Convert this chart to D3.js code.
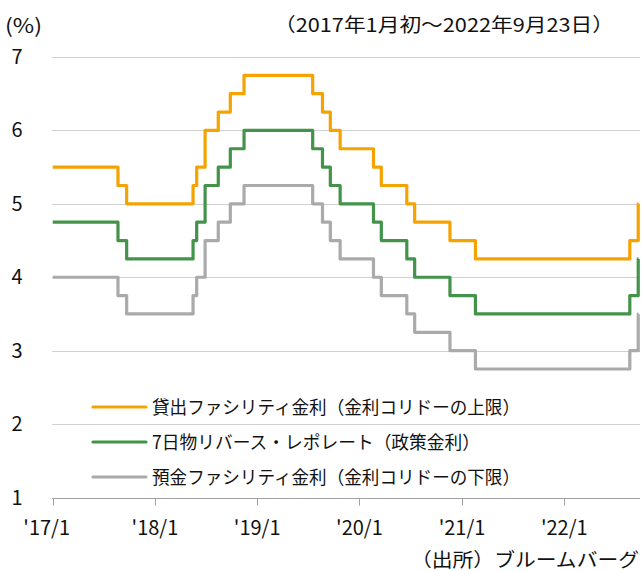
<!DOCTYPE html>
<html>
<head>
<meta charset="utf-8">
<script src="https://cdn.jsdelivr.net/npm/d3@7"></script>
<style>
  body { margin:0; background:#fff; }
  text { font-family:"Noto Sans CJK JP","Noto Sans",sans-serif; fill:#111; }
</style>
</head>
<body>
<div id="chart"></div>
<script>
// change dates of the rates (first = start of chart)
const dates = ["2017-01-01","2017-08-22","2017-09-22","2018-05-17","2018-05-30","2018-06-29",
  "2018-08-15","2018-09-27","2018-11-15","2019-07-18","2019-08-22","2019-09-19","2019-10-24",
  "2020-02-20","2020-03-19","2020-06-18","2020-07-16","2020-11-19","2021-02-18","2022-08-23",
  "2022-09-22"];
const endDate = "2022-09-23";

const lending = [5.50,5.25,5.00,5.25,5.50,6.00,6.25,6.50,6.75,6.50,6.25,6.00,5.75,
  5.50,5.25,5.00,4.75,4.50,4.25,4.50,5.00];
const policy  = [4.75,4.50,4.25,4.50,4.75,5.25,5.50,5.75,6.00,5.75,5.50,5.25,5.00,
  4.75,4.50,4.25,4.00,3.75,3.50,3.75,4.25];
const deposit = [4.00,3.75,3.50,3.75,4.00,4.50,4.75,5.00,5.25,5.00,4.75,4.50,4.25,
  4.00,3.75,3.50,3.25,3.00,2.75,3.00,3.50];

const seriesNames = ["貸出ファシリティ金利（金利コリドーの上限）",
  "7日物リバース・レポレート（政策金利）",
  "預金ファシリティ金利（金利コリドーの下限）"];
const colors = ["#f5a300","#43934a","#aaaaaa"];

const xTicks = ["2017-01-01","2018-01-01","2019-01-01","2020-01-01","2021-01-01","2022-01-01"];
const xTickLabels = ["'17/1","'18/1","'19/1","'20/1","'21/1","'22/1"];
const yTicks = [1,2,3,4,5,6,7];

const W = 641, H = 571;
const parse = d3.timeParse("%Y-%m-%d");

const svg = d3.select("#chart").append("svg")
  .attr("width",W).attr("height",H);

const x = d3.scaleTime()
  .domain([parse(dates[0]), parse(endDate)])
  .range([52.7, 638.5]);
const y = d3.scaleLinear().domain([1,7]).range([497.5,57]);

// grid
svg.append("g").selectAll("line").data(yTicks.slice(1)).enter()
  .append("line")
  .attr("x1",52).attr("x2",640)
  .attr("y1",d => Math.round(y(d))+0.5).attr("y2",d => Math.round(y(d))+0.5)
  .attr("stroke","#d0d0d0").attr("stroke-width",1);

// y labels
svg.append("g").selectAll("text").data(yTicks).enter()
  .append("text")
  .attr("x",17).attr("y",d => y(d)+7)
  .attr("text-anchor","middle")
  .style("font-size","20px")
  .text(d => d);

// x axis
const xa = svg.append("g").attr("transform","translate(0,"+(Math.round(y(1))+0.5)+")");
xa.append("line").attr("x1",52).attr("x2",640).attr("stroke","#a0a0a0");
xa.selectAll("line.tk").data(xTicks).enter()
  .append("line").attr("class","tk")
  .attr("x1",d => Math.round(x(parse(d)))+0.5).attr("x2",d => Math.round(x(parse(d)))+0.5)
  .attr("y1",0).attr("y2",7)
  .attr("stroke","#a0a0a0");
xa.selectAll("text").data(xTicks).enter()
  .append("text")
  .attr("x",(d,i) => x(parse(d)) + (i==0 ? -6 : 0))
  .attr("y",36)
  .attr("text-anchor","middle")
  .style("font-size","20px")
  .text((d,i) => xTickLabels[i]);

// lines
const line = d3.line()
  .x(d => x(d[0])).y(d => y(d[1]))
  .curve(d3.curveStepAfter);

[lending, policy, deposit].forEach((vals,i) => {
  let pts = dates.map((d,j) => [parse(d), vals[j]]);
  pts.push([parse(endDate), vals[vals.length-1]]);
  svg.append("path").datum(pts)
    .attr("d",line)
    .attr("fill","none")
    .attr("stroke",colors[i])
    .attr("stroke-width",3.2)
    .attr("stroke-linejoin","round");
});

// legend
const legendLen = [368, 328, 368];
const lg = svg.append("g");
seriesNames.forEach((n,i) => {
  let ly = 407 + i*35;
  lg.append("line").attr("x1",93).attr("x2",146).attr("y1",ly).attr("y2",ly)
    .attr("stroke",colors[i]).attr("stroke-width",3.2).attr("stroke-linecap","round");
  lg.append("text").attr("x",152).attr("y",ly+7)
    .style("font-size","18px")
    .attr("textLength",legendLen[i]).attr("lengthAdjust","spacingAndGlyphs")
    .text(n);
});

// titles
svg.append("text").attr("x",5).attr("y",33).style("font-size","20px")
  .attr("textLength",37).attr("lengthAdjust","spacingAndGlyphs").text("(%)");
svg.append("text").attr("x",274).attr("y",32)
  .style("font-size","19px")
  .attr("textLength",340).attr("lengthAdjust","spacingAndGlyphs")
  .text("（2017年1月初～2022年9月23日）");
svg.append("text").attr("x",411).attr("y",567)
  .style("font-size","19px")
  .attr("textLength",228).attr("lengthAdjust","spacingAndGlyphs")
  .text("（出所）ブルームバーグ");
</script>
</body>
</html>
